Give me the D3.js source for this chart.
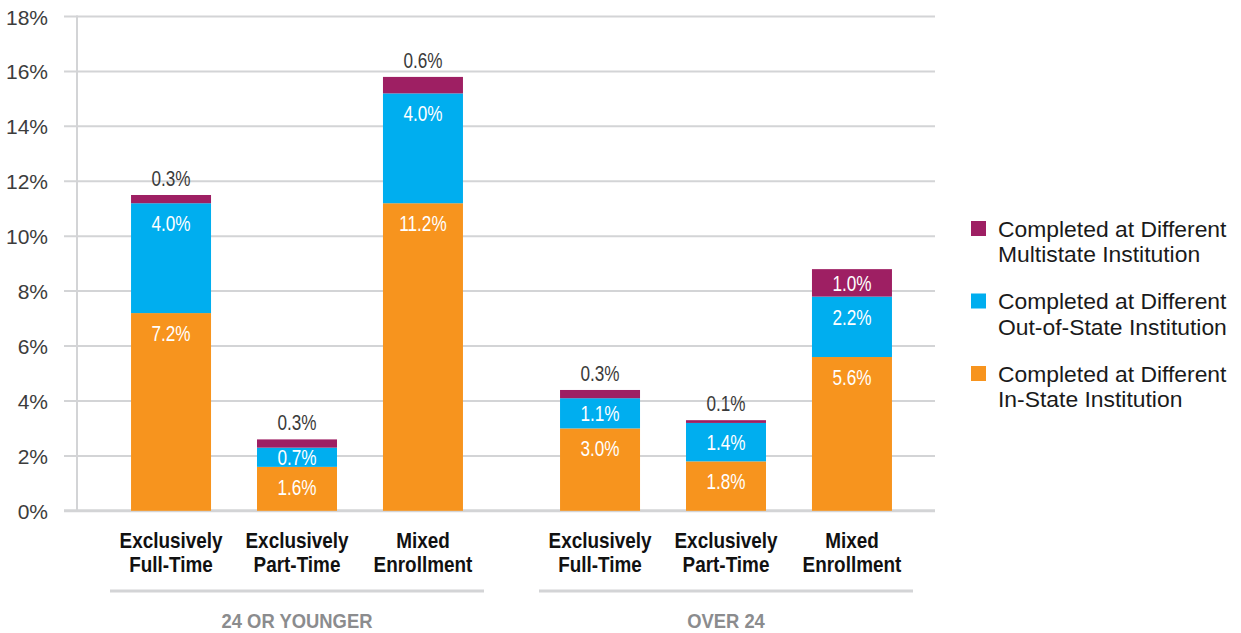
<!DOCTYPE html>
<html>
<head>
<meta charset="utf-8">
<script src="https://cdn.jsdelivr.net/npm/d3@7"></script>
<style>
  html, body { margin: 0; padding: 0; background: #fff; }
  svg { display: block; }
  text { font-family: "Liberation Sans", Arial, sans-serif; }
</style>
</head>
<body>
<svg id="chart" width="1241" height="633"></svg>
<script>
// ---- Data ----
const groups = ["24 OR YOUNGER", "OVER 24"];
const categories = ["Exclusively\nFull-Time", "Exclusively\nPart-Time", "Mixed\nEnrollment"];
const seriesNames = [
  "Completed at Different\nIn-State Institution",
  "Completed at Different\nOut-of-State Institution",
  "Completed at Different\nMultistate Institution"
];
const seriesColors = ["#F7941E", "#00AEEF", "#9E1F63"];
// values in percent, order: group1 cats..., group2 cats...
const inState    = [7.2, 1.6, 11.2, 3.0, 1.8, 5.6];
const outOfState = [4.0, 0.7, 4.0, 1.1, 1.4, 2.2];
const multistate = [0.3, 0.3, 0.6, 0.3, 0.1, 1.0];
const yTicks = [0, 2, 4, 6, 8, 10, 12, 14, 16, 18];

// ---- Build rows ----
const rows = [];
groups.forEach((g, gi) => {
  categories.forEach((c, ci) => {
    const i = gi * categories.length + ci;
    rows.push({ group: g, cat: c, inState: inState[i], outOfState: outOfState[i], multistate: multistate[i] });
  });
});
const keys = ["inState", "outOfState", "multistate"];
const stacked = d3.stack().keys(keys)(rows);

const svg = d3.select("#chart");

// helper: horizontally scaled (condensed) text, possibly multi-line
function sText(parent, x, y, str, o) {
  const g = parent.append("g").attr("transform", `translate(${x},${y}) scale(${o.sx || 1},1)`);
  const t = g.append("text")
    .attr("font-size", o.size).attr("fill", o.fill)
    .attr("font-weight", o.weight || "normal")
    .attr("text-anchor", o.anchor || "start");
  str.split("\n").forEach((line, li) => {
    t.append("tspan").attr("x", 0).attr("dy", li === 0 ? 0 : (o.lh || 24)).text(line);
  });
  return t;
}

// ---- Scales ----
const y = d3.scaleLinear().domain([0, 18]).range([510.8, 16.5]);
const x0 = d3.scaleBand().domain(groups).range([110, 913]).paddingInner(374 / 429 < 1 ? 1 - 374 / 429 : 0);
const x1 = d3.scaleBand().domain(categories).range([0, x0.bandwidth()]).paddingInner(0.365).paddingOuter(0.167);
const color = d3.scaleOrdinal().domain(keys).range(seriesColors);

// ---- Grid ----
const gridG = svg.append("g");
gridG.selectAll("line").data(yTicks).join("line")
  .attr("x1", 64).attr("x2", 935)
  .attr("y1", d => y(d)).attr("y2", d => y(d))
  .attr("stroke", "#d3d4d6")
  .attr("stroke-width", d => d === 0 ? 3 : 2);
// vertical axis line
svg.append("line")
  .attr("x1", 77).attr("x2", 77)
  .attr("y1", y(18) - 1).attr("y2", y(0))
  .attr("stroke", "#d3d4d6").attr("stroke-width", 2);

// Y axis labels
const yAxis = d3.axisLeft(y).tickValues(yTicks).tickFormat(d => d + "%").tickSize(0).tickPadding(0);
const yg = svg.append("g").attr("transform", "translate(48,0)").call(yAxis);
yg.select(".domain").remove();
yg.selectAll("text")
  .attr("font-family", "'Liberation Sans', Arial, sans-serif")
  .attr("font-size", 21)
  .attr("fill", "#3c3c3c")
  .attr("dy", "0.36em");

// ---- Bars ----
const barsG = svg.append("g");
stacked.forEach(layer => {
  barsG.append("g").attr("fill", color(layer.key))
    .selectAll("rect").data(layer).join("rect")
    .attr("x", d => x0(d.data.group) + x1(d.data.cat))
    .attr("width", x1.bandwidth())
    .attr("y", d => y(d[1]))
    .attr("height", d => y(d[0]) - y(d[1]));
});

// ---- Value labels ----
const labG = svg.append("g");
stacked.forEach(layer => {
  layer.forEach(d => {
    const v = d[1] - d[0];
    const cx = x0(d.data.group) + x1(d.data.cat) + x1.bandwidth() / 2;
    const top = y(d[1]), bottom = y(d[0]);
    const txt = v.toFixed(1) + "%";
    if (layer.key === "multistate" && v < 0.8) {
      sText(labG, cx, top - 9, txt, { size: 22, sx: 0.78, fill: "#3a3a3a", anchor: "middle" });
    } else {
      const center = Math.min(top + 20, (top + bottom) / 2);
      sText(labG, cx, center + 8, txt, { size: 22, sx: 0.78, fill: "#ffffff", anchor: "middle" });
    }
  });
});

// ---- Category labels ----
const catG = svg.append("g");
rows.forEach(r => {
  const cx = x0(r.group) + x1(r.cat) + x1.bandwidth() / 2;
  sText(catG, cx, 548, r.cat, { size: 22, sx: 0.86, weight: "bold", fill: "#111", anchor: "middle", lh: 24 });
});

// ---- Group separators and labels ----
groups.forEach(g => {
  svg.append("line")
    .attr("x1", x0(g)).attr("x2", x0(g) + x0.bandwidth())
    .attr("y1", 591).attr("y2", 591)
    .attr("stroke", "#d3d4d6").attr("stroke-width", 3);
  sText(svg, x0(g) + x0.bandwidth() / 2, 628, g, { size: 21, sx: 0.876, weight: "bold", fill: "#8b8c8e", anchor: "middle" });
});

// ---- Legend ----
const legendOrder = [2, 1, 0];
const legG = svg.append("g");
legendOrder.forEach((si, i) => {
  const top = 221 + i * 72.5;
  legG.append("rect").attr("x", 971).attr("y", top).attr("width", 15).attr("height", 15)
    .attr("fill", seriesColors[si]);
  sText(legG, 998, top + 15.5, seriesNames[si], { size: 22, sx: 1.04, fill: "#1a1a1a", lh: 26 });
});
</script>
</body>
</html>
